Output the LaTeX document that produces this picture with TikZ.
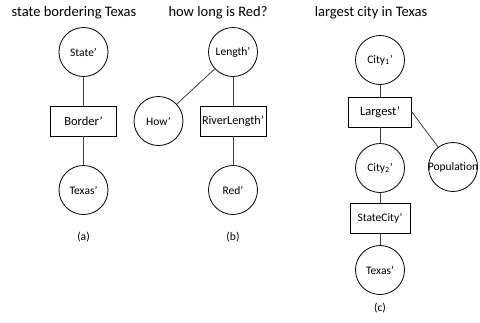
\documentclass[tikz,border=0pt]{standalone}
\usepackage{fontspec}
\setmainfont{Carlito}
\begin{document}
\begin{tikzpicture}[x=1pt,y=-1pt,
  circ/.style={draw=black,line width=0.8pt,circle,minimum size=49pt,inner sep=0pt,font=\fontsize{11.5}{12}\selectfont},
  box/.style={draw=black,line width=0.8pt,rectangle,minimum width=66pt,minimum height=30pt,inner sep=0pt,font=\fontsize{12.5}{13}\selectfont},
  ttl/.style={font=\fontsize{14.5}{16}\selectfont,inner sep=0pt},
  sublabel/.style={font=\fontsize{11.5}{12}\selectfont,inner sep=0pt},
  conn/.style={draw=black!75,line width=0.8pt}]
\useasboundingbox (0,0) rectangle (480,322);
% panel (a)
\node[ttl] (ta) at (74,13) {state bordering Texas};
\node[circ] (state) at (83.5,52) {State’};
\node[box] (border) at (83.5,121) {Border’};
\node[circ] (texasa) at (83.5,190) {Texas’};
\node[sublabel] (capa) at (83.5,237) {(a)};
\draw[conn] (state) -- (border);
\draw[conn] (border) -- (texasa);
% panel (b)
\node[ttl] (tb) at (218,13) {how long is Red?};
\node[circ] (length) at (233,52) {Length’};
\node[circ] (how) at (158.5,121) {How’};
\node[box,label={[font=\fontsize{12.2}{13}\selectfont]center:RiverLength’}] (river) at (233,121) {};
\node[circ] (red) at (233,190) {Red’};
\node[sublabel] (capb) at (233,237) {(b)};
\draw[conn] (length) -- (how);
\draw[conn] (length) -- (river);
\draw[conn] (river) -- (red);
% panel (c)
\node[ttl] (tc) at (371,13) {largest city in Texas};
\node[circ] (city1) at (380,60) {City\textsubscript{1}’};
\node[box,minimum width=63pt] (largest) at (380,112) {Largest’};
\node[circ] (city2) at (380,168) {City\textsubscript{2}’};
\node[circ,label={[font=\fontsize{11.5}{12}\selectfont]center:Population}] (pop) at (453,167) {};
\node[box,minimum width=60pt,font=\fontsize{11.5}{12}\selectfont] (statecity) at (380,218) {StateCity’};
\node[circ] (texasc) at (380,270) {Texas’};
\node[sublabel] (capc) at (380,308) {(c)};
\draw[conn] (city1) -- (largest);
\draw[conn] (largest.east) -- (pop);
\draw[conn] (largest) -- (city2);
\draw[conn] (city2) -- (statecity);
\draw[conn] (statecity) -- (texasc);
\end{tikzpicture}
\end{document}
